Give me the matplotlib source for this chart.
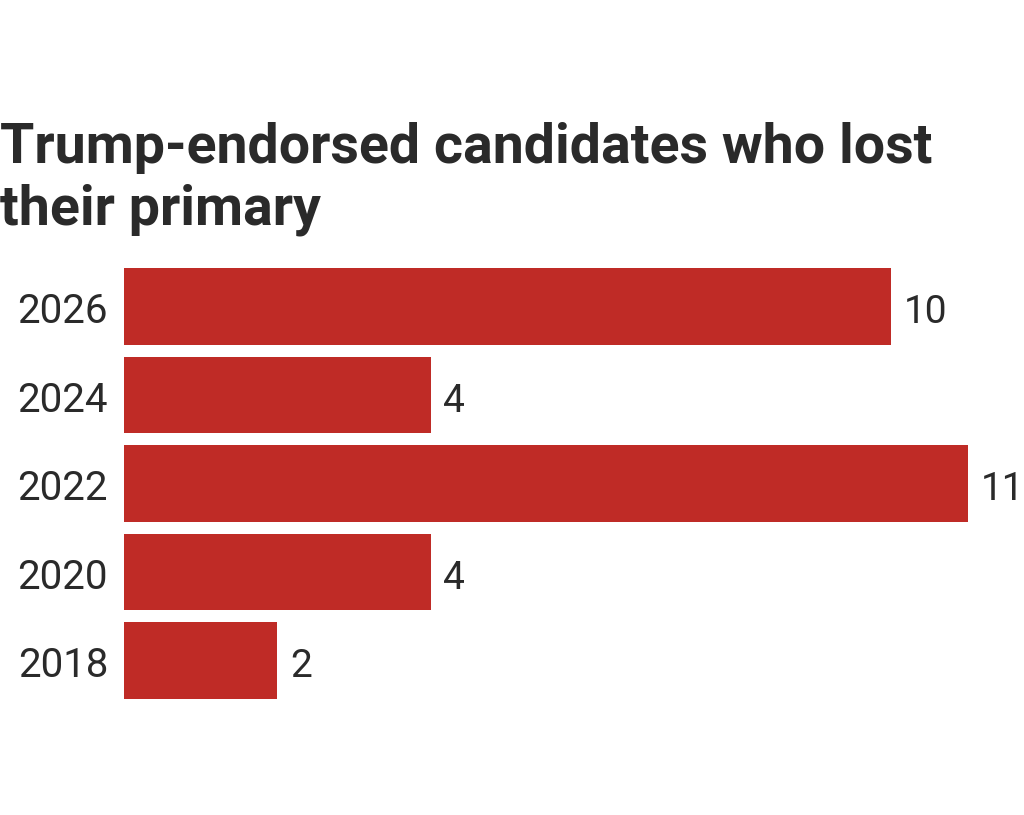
import matplotlib.pyplot as plt

years = ['2026', '2024', '2022', '2020', '2018']
losses = [10, 4, 11, 4, 2]

bar_color = '#bf2b26'
text_color = '#2a2a2a'

fig = plt.figure(figsize=(10.24, 8.15), dpi=100)
ax = fig.add_axes([124 / 1024, 1 - 704.75 / 815, (968 - 124) / 1024, 442.5 / 815])

pos = list(range(len(years)))
ax.barh(pos, losses, height=0.87, color=bar_color)
ax.set_xlim(0, 11)
ax.set_ylim(len(years) - 0.5, -0.5)

ax.set_xticks([])
ax.set_yticks([])
for s in ax.spines.values():
    s.set_visible(False)

# year labels left of the bars, value labels right of them
for p, y, v in zip(pos, years, losses):
    ax.annotate(y, (0, p), xytext=(-11.5, -11.9),
                textcoords='offset points', va='baseline', ha='right',
                fontsize=29, color=text_color, family='Roboto')
    ax.annotate(str(v), (v, p), xytext=(9, -11.9), textcoords='offset points',
                va='baseline', ha='left', fontsize=28, color=text_color,
                family='Roboto')

fig.text(0, 1 - 163 / 815, 'Trump-endorsed candidates who lost',
         fontsize=40, fontweight='bold', color=text_color, family='Roboto',
         va='baseline', ha='left')
fig.text(0, 1 - 225 / 815, 'their primary',
         fontsize=40, fontweight='bold', color=text_color, family='Roboto',
         va='baseline', ha='left')

fig.savefig('out.png', dpi=100)
